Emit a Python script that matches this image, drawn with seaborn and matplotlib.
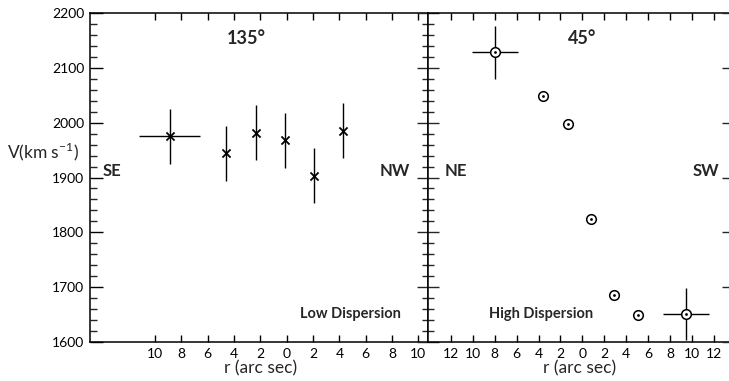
import numpy as np
import pandas as pd
import matplotlib
matplotlib.use("Agg")
import matplotlib.pyplot as plt
import seaborn as sns
from matplotlib.ticker import MultipleLocator, FixedLocator, FuncFormatter

# ---------------- data ----------------
# signed position (negative = left side of the axis), labels show |r|
low_r = [-8.9, -4.6, -2.35, -0.1, 2.1, 4.25]
low_v = [1975, 1944, 1982, 1968, 1903, 1985]
low_verr = [50, 50, 50, 50, 50, 50]
low_rerr = [2.3, 0, 0, 0, 0, 0]

high_r = [-8.0, -3.6, -1.3, 0.8, 2.9, 5.1, 9.5]
high_v = [2128, 2049, 1997, 1825, 1685, 1649, 1651]
high_verr = [48, 0, 0, 0, 0, 0, 48]
high_rerr = [2.1, 0, 0, 0, 0, 0, 2.1]

left_ticks = [-10, -8, -6, -4, -2, 0, 2, 4, 6, 8, 10]
right_ticks = [-12, -10, -8, -6, -4, -2, 0, 2, 4, 6, 8, 10, 12]

low = pd.DataFrame({"r": low_r, "v": low_v, "verr": low_verr, "rerr": low_rerr})
high = pd.DataFrame({"r": high_r, "v": high_v, "verr": high_verr, "rerr": high_rerr})

# ---------------- style ----------------
sns.set_style("ticks")
plt.rcParams["font.family"] = ["Lato", "DejaVu Sans"]
plt.rcParams["mathtext.fontset"] = "custom"
plt.rcParams["mathtext.rm"] = "Lato"
plt.rcParams["axes.edgecolor"] = "black"
plt.rcParams["axes.linewidth"] = 1.1

W, H = 729, 381
fig = plt.figure(figsize=(W / 100, H / 100), dpi=100)

def fx(px):
    return px / W

def fy(py):
    return 1 - py / H

y_top, y_bot = 13, 342
ax1 = fig.add_axes([fx(90), fy(y_bot), fx(428 - 90), (y_bot - y_top) / H])
ax2 = fig.add_axes([fx(428), fy(y_bot), fx(729 - 428), (y_bot - y_top) / H])

absfmt = FuncFormatter(lambda v, p: f"{abs(int(round(v)))}")

for ax in (ax1, ax2):
    ax.set_ylim(1600, 2200)
    ax.yaxis.set_major_locator(MultipleLocator(100))
    ax.yaxis.set_minor_locator(MultipleLocator(20))
    ax.xaxis.set_major_formatter(absfmt)
    ax.tick_params(axis="x", which="major", direction="in", length=5, width=1,
                   top=True, bottom=True, labelsize=10, pad=4, colors="black")

ax1.set_xlim(-14.94, 10.73)
ax1.xaxis.set_major_locator(FixedLocator(left_ticks))
ax1.tick_params(axis="y", which="major", direction="in", length=9, width=1,
                left=True, right=False, labelsize=10, pad=4, colors="black")
ax1.tick_params(axis="y", which="minor", direction="in", length=5, width=1,
                left=True, right=False)

ax2.set_xlim(-14.1, 13.4)
ax2.xaxis.set_major_locator(FixedLocator(right_ticks))
ax2.tick_params(axis="y", which="major", direction="inout", length=16, width=1,
                left=True, right=False, labelleft=False)
ax2.tick_params(axis="y", which="minor", direction="inout", length=8, width=1,
                left=True, right=False, labelleft=False)
ax2.spines["right"].set_visible(False)
# short major ticks pointing inward at the right edge
ax2r = ax2.twinx()
ax2r.set_ylim(1600, 2200)
ax2r.yaxis.set_major_locator(MultipleLocator(100))
ax2r.tick_params(axis="y", which="major", direction="in", length=5, width=1,
                 labelright=False)
for s in ax2r.spines.values():
    s.set_visible(False)

# ---------------- marks ----------------
def draw_err(ax, df):
    ve = df[df["verr"] > 0]
    ax.errorbar(ve["r"], ve["v"], yerr=ve["verr"], fmt="none", ecolor="black",
                elinewidth=1.0, capsize=0, zorder=2)
    he = df[df["rerr"] > 0]
    ax.errorbar(he["r"], he["v"], xerr=he["rerr"], fmt="none", ecolor="black",
                elinewidth=1.0, capsize=0, zorder=2)

draw_err(ax1, low)
sns.scatterplot(data=low, x="r", y="v", marker="x", color="black", s=34,
                linewidth=1.3, ax=ax1, zorder=3, legend=False)

draw_err(ax2, high)
sns.scatterplot(data=high, x="r", y="v", marker="o", facecolor="white",
                edgecolor="black", s=48, linewidth=1.1, ax=ax2, zorder=3,
                legend=False)
sns.scatterplot(data=high, x="r", y="v", marker="o", color="black", s=4,
                linewidth=0, ax=ax2, zorder=4, legend=False)
for ax in (ax1, ax2):
    ax.set_xlabel("")
    ax.set_ylabel("")

# ---------------- text ----------------
fig.text(fx(246), fy(38), "135°", ha="center", va="center", fontsize=13,
         fontweight="bold")
fig.text(fx(582), fy(38), "45°", ha="center", va="center", fontsize=13,
         fontweight="bold")
for label, x in (("SE", 112), ("NW", 395), ("NE", 456), ("SW", 706)):
    fig.text(fx(x), fy(171), label, ha="center", va="center", fontsize=12,
             fontweight="bold")
fig.text(fx(350), fy(314), "Low Dispersion", ha="center", va="center",
         fontsize=10.5, fontweight="bold")
fig.text(fx(541), fy(314), "High Dispersion", ha="center", va="center",
         fontsize=10.5, fontweight="bold")
fig.text(fx(261), fy(368), "r (arc sec)", ha="center", va="center", fontsize=12.5)
fig.text(fx(580), fy(368), "r (arc sec)", ha="center", va="center", fontsize=12.5)
fig.text(fx(43), fy(152), r"V(km s$^{\mathregular{-1}}$)", ha="center",
         va="center", fontsize=12.5)

fig.savefig("out.png", dpi=100)
